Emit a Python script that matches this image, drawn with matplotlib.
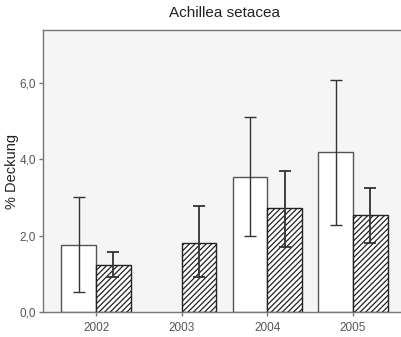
import numpy as np
import matplotlib
matplotlib.use('Agg')
import matplotlib.pyplot as plt

plt.rcParams['font.family'] = 'Liberation Sans'
plt.rcParams['hatch.linewidth'] = 0.9

# Data
years = ['2002', '2003', '2004', '2005']
open_means = [1.75, np.nan, 3.54, 4.18]
open_low = [0.52, np.nan, 2.00, 2.29]
open_high = [3.00, np.nan, 5.10, 6.07]
hatched_means = [1.24, 1.82, 2.71, 2.54]
hatched_low = [0.92, 0.92, 1.71, 1.81]
hatched_high = [1.57, 2.77, 3.69, 3.25]
y_ticks = [0, 2, 4, 6]
y_tick_labels = ['0,0', '2,0', '4,0', '6,0']

fig = plt.figure(figsize=(4.02, 3.37), dpi=100)
ax = fig.add_axes([0.107, 0.074, 0.905, 0.837])
ax.set_facecolor('#f5f5f5')

x = np.arange(len(years))
w = 0.405
edge = '#555555'
errc = '#333333'

om = np.array(open_means)
hm = np.array(hatched_means)
ax.bar(x - w / 2, om, w, color='white', edgecolor=edge, linewidth=1)
ax.bar(x + w / 2, hm, w, color='white', edgecolor='#222222', hatch='//////', linewidth=1)

ax.errorbar(x - w / 2, om, yerr=[om - np.array(open_low), np.array(open_high) - om],
            fmt='none', ecolor=errc, elinewidth=1, capsize=4, capthick=1)
ax.errorbar(x + w / 2, hm, yerr=[hm - np.array(hatched_low), np.array(hatched_high) - hm],
            fmt='none', ecolor=errc, elinewidth=1.3, capsize=4, capthick=1.3)

ax.set_xlim(-0.62, 3.63)
ax.set_ylim(0, 7.38)
ax.set_xticks(x)
ax.set_xticklabels(years)
ax.set_yticks(y_ticks)
ax.set_yticklabels(y_tick_labels)

for s in ['left', 'top', 'bottom']:
    ax.spines[s].set_color('#777777')
    ax.spines[s].set_linewidth(1)
ax.spines['right'].set_visible(False)

ax.tick_params(axis='both', colors='#777777', labelcolor='#555555', labelsize=8.5,
               length=3, width=1, direction='out')
ax.tick_params(axis='x', pad=4)
ax.tick_params(axis='y', pad=2)
ax.set_ylabel('% Deckung', fontsize=10.5, color='#222222')
ax.yaxis.set_label_coords(-0.066, 0.5)
ax.set_title('Achillea setacea', fontsize=11, color='#222222', pad=9)

fig.savefig('out.png', dpi=100)
